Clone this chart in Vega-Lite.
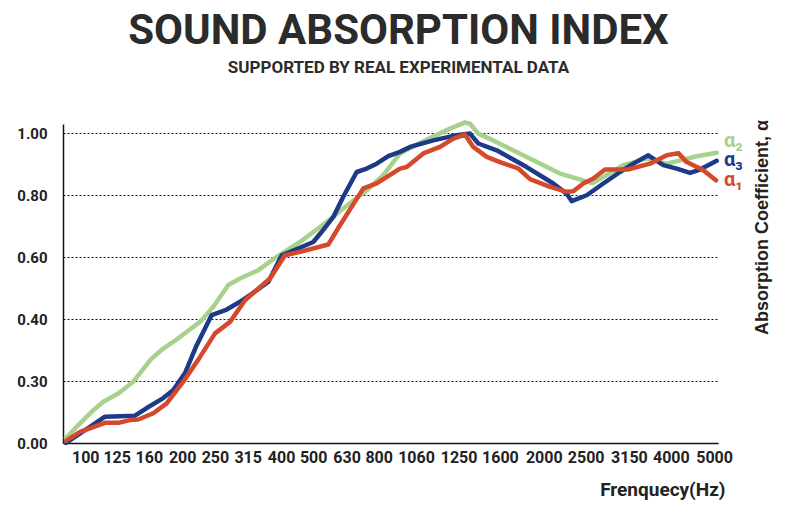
{
  "$schema": "https://vega.github.io/schema/vega-lite/v6.json",
  "width": 655,
  "height": 319,
  "autosize": {"type": "none"},
  "padding": {"left": 63, "top": 124, "right": 72, "bottom": 89},
  "title": {
    "text": "SOUND ABSORPTION INDEX",
    "subtitle": "SUPPORTED BY REAL EXPERIMENTAL DATA",
    "anchor": "middle",
    "frame": "group",
    "dx": 8,
    "offset": 42,
    "font": "Roboto",
    "fontSize": 42,
    "fontWeight": "bold",
    "color": "#2b2b2b",
    "subtitleFont": "Roboto",
    "subtitleFontSize": 17,
    "subtitleFontWeight": "bold",
    "subtitleColor": "#2b2b2b",
    "subtitlePadding": 7
  },
  "datasets": {
    "curves": [
      {"s": "a2", "u": 0.46, "v": 0.016},
      {"s": "a2", "u": 2.34, "v": 0.058},
      {"s": "a2", "u": 4.63, "v": 0.106},
      {"s": "a2", "u": 6.15, "v": 0.133},
      {"s": "a2", "u": 8.44, "v": 0.16},
      {"s": "a2", "u": 10.73, "v": 0.198},
      {"s": "a2", "u": 13.54, "v": 0.273},
      {"s": "a2", "u": 15.31, "v": 0.305},
      {"s": "a2", "u": 17.6, "v": 0.338},
      {"s": "a2", "u": 20.92, "v": 0.391},
      {"s": "a2", "u": 22.95, "v": 0.44},
      {"s": "a2", "u": 25.24, "v": 0.51},
      {"s": "a2", "u": 27.02, "v": 0.531},
      {"s": "a2", "u": 29.82, "v": 0.558},
      {"s": "a2", "u": 32.63, "v": 0.601},
      {"s": "a2", "u": 36.18, "v": 0.649},
      {"s": "a2", "u": 40.0, "v": 0.709},
      {"s": "a2", "u": 42.79, "v": 0.757},
      {"s": "a2", "u": 46.37, "v": 0.816},
      {"s": "a2", "u": 48.9, "v": 0.865},
      {"s": "a2", "u": 51.45, "v": 0.935},
      {"s": "a2", "u": 54.76, "v": 0.972},
      {"s": "a2", "u": 59.08, "v": 1.015},
      {"s": "a2", "u": 61.37, "v": 1.035},
      {"s": "a2", "u": 62.14, "v": 1.031},
      {"s": "a2", "u": 63.4, "v": 0.999},
      {"s": "a2", "u": 65.69, "v": 0.977},
      {"s": "a2", "u": 71.8, "v": 0.913},
      {"s": "a2", "u": 75.88, "v": 0.87},
      {"s": "a2", "u": 79.95, "v": 0.845},
      {"s": "a2", "u": 80.76, "v": 0.839},
      {"s": "a2", "u": 82.49, "v": 0.859},
      {"s": "a2", "u": 85.54, "v": 0.897},
      {"s": "a2", "u": 89.11, "v": 0.918},
      {"s": "a2", "u": 92.17, "v": 0.902},
      {"s": "a2", "u": 96.75, "v": 0.926},
      {"s": "a2", "u": 99.8, "v": 0.937},
      {"s": "a3", "u": 0.46, "v": 0.0},
      {"s": "a3", "u": 6.41, "v": 0.085},
      {"s": "a3", "u": 10.99, "v": 0.088},
      {"s": "a3", "u": 12.78, "v": 0.113},
      {"s": "a3", "u": 15.31, "v": 0.145},
      {"s": "a3", "u": 16.84, "v": 0.171},
      {"s": "a3", "u": 18.63, "v": 0.226},
      {"s": "a3", "u": 20.41, "v": 0.316},
      {"s": "a3", "u": 22.7, "v": 0.413},
      {"s": "a3", "u": 24.99, "v": 0.431},
      {"s": "a3", "u": 27.02, "v": 0.456},
      {"s": "a3", "u": 29.05, "v": 0.485},
      {"s": "a3", "u": 31.34, "v": 0.52},
      {"s": "a3", "u": 33.39, "v": 0.606},
      {"s": "a3", "u": 36.44, "v": 0.633},
      {"s": "a3", "u": 38.21, "v": 0.649},
      {"s": "a3", "u": 39.5, "v": 0.682},
      {"s": "a3", "u": 41.27, "v": 0.73},
      {"s": "a3", "u": 42.79, "v": 0.795},
      {"s": "a3", "u": 44.84, "v": 0.875},
      {"s": "a3", "u": 46.37, "v": 0.886},
      {"s": "a3", "u": 47.89, "v": 0.902},
      {"s": "a3", "u": 49.66, "v": 0.926},
      {"s": "a3", "u": 51.45, "v": 0.94},
      {"s": "a3", "u": 52.98, "v": 0.956},
      {"s": "a3", "u": 56.53, "v": 0.977},
      {"s": "a3", "u": 60.11, "v": 0.994},
      {"s": "a3", "u": 62.14, "v": 0.999},
      {"s": "a3", "u": 63.4, "v": 0.967},
      {"s": "a3", "u": 66.21, "v": 0.945},
      {"s": "a3", "u": 70.79, "v": 0.891},
      {"s": "a3", "u": 74.85, "v": 0.838},
      {"s": "a3", "u": 76.9, "v": 0.805},
      {"s": "a3", "u": 77.66, "v": 0.781},
      {"s": "a3", "u": 79.95, "v": 0.8},
      {"s": "a3", "u": 82.49, "v": 0.838},
      {"s": "a3", "u": 85.04, "v": 0.875},
      {"s": "a3", "u": 87.07, "v": 0.902},
      {"s": "a3", "u": 89.36, "v": 0.929},
      {"s": "a3", "u": 91.65, "v": 0.897},
      {"s": "a3", "u": 93.69, "v": 0.886},
      {"s": "a3", "u": 95.73, "v": 0.872},
      {"s": "a3", "u": 97.25, "v": 0.883},
      {"s": "a3", "u": 99.8, "v": 0.911},
      {"s": "a1", "u": 0.46, "v": 0.007},
      {"s": "a1", "u": 2.6, "v": 0.036},
      {"s": "a1", "u": 6.41, "v": 0.065},
      {"s": "a1", "u": 8.44, "v": 0.065},
      {"s": "a1", "u": 10.23, "v": 0.074},
      {"s": "a1", "u": 11.5, "v": 0.076},
      {"s": "a1", "u": 13.79, "v": 0.096},
      {"s": "a1", "u": 15.83, "v": 0.128},
      {"s": "a1", "u": 18.37, "v": 0.198},
      {"s": "a1", "u": 20.92, "v": 0.278},
      {"s": "a1", "u": 23.21, "v": 0.354},
      {"s": "a1", "u": 25.5, "v": 0.391},
      {"s": "a1", "u": 27.79, "v": 0.461},
      {"s": "a1", "u": 29.57, "v": 0.494},
      {"s": "a1", "u": 31.6, "v": 0.531},
      {"s": "a1", "u": 33.89, "v": 0.606},
      {"s": "a1", "u": 36.18, "v": 0.617},
      {"s": "a1", "u": 40.5, "v": 0.641},
      {"s": "a1", "u": 42.29, "v": 0.703},
      {"s": "a1", "u": 45.85, "v": 0.822},
      {"s": "a1", "u": 47.89, "v": 0.838},
      {"s": "a1", "u": 51.45, "v": 0.886},
      {"s": "a1", "u": 52.47, "v": 0.891},
      {"s": "a1", "u": 55.01, "v": 0.935},
      {"s": "a1", "u": 57.56, "v": 0.956},
      {"s": "a1", "u": 59.59, "v": 0.983},
      {"s": "a1", "u": 61.37, "v": 0.996},
      {"s": "a1", "u": 62.64, "v": 0.956},
      {"s": "a1", "u": 64.69, "v": 0.924},
      {"s": "a1", "u": 66.72, "v": 0.907},
      {"s": "a1", "u": 69.47, "v": 0.887},
      {"s": "a1", "u": 71.3, "v": 0.852},
      {"s": "a1", "u": 74.35, "v": 0.827},
      {"s": "a1", "u": 76.95, "v": 0.811},
      {"s": "a1", "u": 77.91, "v": 0.813},
      {"s": "a1", "u": 79.44, "v": 0.838},
      {"s": "a1", "u": 80.96, "v": 0.854},
      {"s": "a1", "u": 82.75, "v": 0.883},
      {"s": "a1", "u": 86.26, "v": 0.883},
      {"s": "a1", "u": 89.62, "v": 0.902},
      {"s": "a1", "u": 92.17, "v": 0.929},
      {"s": "a1", "u": 93.94, "v": 0.936},
      {"s": "a1", "u": 95.22, "v": 0.907},
      {"s": "a1", "u": 97.75, "v": 0.881},
      {"s": "a1", "u": 99.69, "v": 0.848}
    ],
    "tags": [
      {"s": "a2", "label": "α₂", "u": 100.9, "v": 0.975},
      {"s": "a3", "label": "α₃", "u": 100.9, "v": 0.913},
      {"s": "a1", "label": "α₁", "u": 100.9, "v": 0.849}
    ]
  },
  "encoding": {
    "x": {
      "field": "u",
      "type": "quantitative",
      "scale": {"domain": [0, 100], "nice": false},
      "axis": {
        "values": [3.4, 8.2, 13.1, 18.2, 23.2, 28.2, 33.3, 38.2, 43.3, 48.2, 53.9, 60.4, 66.7, 73.4, 79.8, 86.4, 92.8, 99.4],
        "labelExpr": "['100','125','160','200','250','315','400','500','630','800','1060','1250','1600','2000','2500','3150','4000','5000'][indexof([3.4, 8.2, 13.1, 18.2, 23.2, 28.2, 33.3, 38.2, 43.3, 48.2, 53.9, 60.4, 66.7, 73.4, 79.8, 86.4, 92.8, 99.4], datum.value)]",
        "labelOverlap": false,
        "labelSeparation": 0,
        "labelBound": false,
        "labelFlush": false,
        "labelPadding": 6,
        "labelFontSize": 16,
        "labelFontWeight": "bold",
        "labelColor": "#222222",
        "ticks": false,
        "grid": false,
        "domainColor": "#111111",
        "domainWidth": 1.5,
        "title": "Frenquecy(Hz)",
        "titleFontSize": 19,
        "titleFontWeight": "bold",
        "titleColor": "#222222",
        "titleAlign": "right",
        "titleBaseline": "middle",
        "titleX": 662,
        "titleY": 46
      }
    }
  },
  "layer": [
    {
      "data": {"name": "curves"},
      "transform": [{"filter": "datum.s == 'a2'"}],
      "mark": {"type": "line", "color": "#a9d18e", "strokeWidth": 4.5, "strokeJoin": "round", "strokeCap": "round"},
      "encoding": {
        "y": {
          "field": "v",
          "type": "quantitative",
          "scale": {"domain": [0, 1.03], "nice": false},
          "axis": {
            "values": [0, 0.2, 0.4, 0.6, 0.8, 1],
            "labelExpr": "datum.value == 0.2 ? '0.30' : format(datum.value, '.2f')",
            "labelFontSize": 15,
            "labelFontWeight": "bold",
            "labelColor": "#222222",
            "labelPadding": 16,
            "ticks": false,
            "grid": true,
            "gridDash": [2, 2],
            "gridColor": "#111111",
            "gridWidth": 1,
            "domainColor": "#111111",
            "domainWidth": 1.5,
            "title": null
          }
        }
      }
    },
    {
      "data": {"name": "curves"},
      "transform": [{"filter": "datum.s == 'a3'"}],
      "mark": {"type": "line", "color": "#1c3a87", "strokeWidth": 4.5, "strokeJoin": "round", "strokeCap": "round"},
      "encoding": {
        "y": {"field": "v", "type": "quantitative", "axis": null}
      }
    },
    {
      "data": {"name": "curves"},
      "transform": [{"filter": "datum.s == 'a1'"}],
      "mark": {"type": "line", "color": "#d4492c", "strokeWidth": 4.5, "strokeJoin": "round", "strokeCap": "round"},
      "encoding": {
        "y": {
          "field": "v",
          "type": "quantitative",
          "axis": {
            "orient": "right",
            "labels": false,
            "ticks": false,
            "domain": false,
            "grid": false,
            "title": "Absorption Coefficient, α",
            "titleFont": "Liberation Sans",
            "titleFontSize": 18,
            "titleFontWeight": "bold",
            "titleColor": "#222222",
            "titleAngle": 270,
            "titleAlign": "center",
            "titleBaseline": "middle",
            "titleX": 44,
            "titleY": 103
          }
        }
      }
    },
    {
      "data": {"name": "tags"},
      "mark": {"type": "text", "align": "left", "baseline": "middle", "fontSize": 20, "fontWeight": "bold"},
      "encoding": {
        "y": {"field": "v", "type": "quantitative", "axis": null},
        "text": {"field": "label"},
        "color": {
          "field": "s",
          "type": "nominal",
          "scale": {"domain": ["a1", "a2", "a3"], "range": ["#d4492c", "#a9d18e", "#1c3a87"]},
          "legend": null
        }
      }
    }
  ],
  "resolve": {"axis": {"y": "independent"}},
  "config": {
    "font": "Roboto",
    "background": "white",
    "view": {"stroke": null},
    "axis": {"labelOverlap": false}
  }
}
